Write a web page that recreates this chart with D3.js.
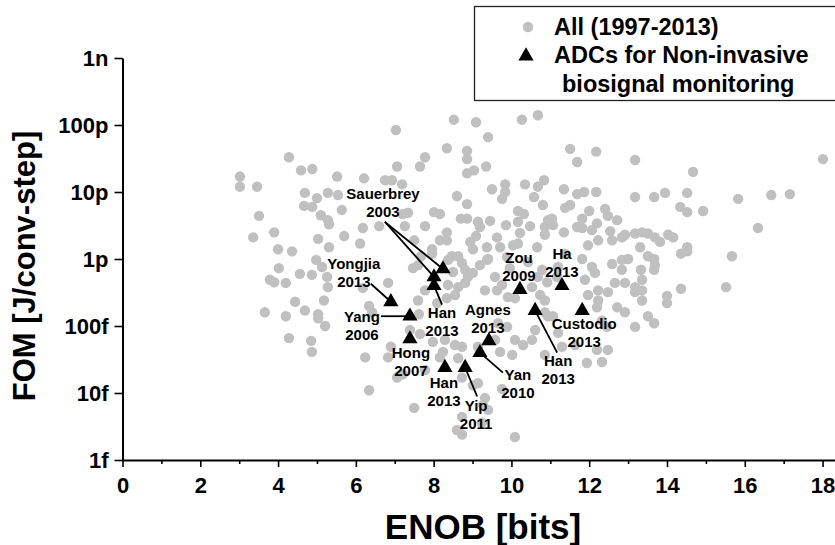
<!DOCTYPE html>
<html>
<head>
<meta charset="utf-8">
<script src="https://cdn.jsdelivr.net/npm/d3@7"></script>
<style>
  body { margin: 0; background: #fff; }
  svg text { font-family: "Liberation Sans", Arial, sans-serif; font-weight: bold; fill: #000; }
</style>
</head>
<body>
<svg width="835" height="545"></svg>
<script>
// All ADCs (1997-2013): [ENOB bits, FOM J/conv-step]
var allAdcs = [
  [3.02,1.7e-11],[3.02,1.2e-11],[3.46,1.2e-11],[3.51,4.4e-12],[3.36,2.1e-12],[3.90,2.5e-12],[4.28,3.3e-11],[4.59,2.1e-11],[4.88,2.2e-11],[4.69,9.7e-12],
  [5.00,8.1e-12],[4.67,6.2e-12],[4.88,6.0e-12],[5.10,4.5e-12],[5.28,3.8e-12],[5.31,3.3e-12],[5.52,1.7e-11],[5.64,5.4e-12],[6.21,1.6e-11],[6.75,1.5e-11],
  [6.93,1.5e-11],[7.19,1.3e-11],[7.03,8.4e-11],[7.06,2.4e-11],[7.65,2.4e-11],[7.78,3.3e-11],[5.28,9.7e-12],[5.54,9.0e-12],[6.18,2.9e-12],[6.60,3.1e-12],
  [7.26,3.1e-12],[7.21,4.7e-12],[7.34,4.9e-12],[5.03,2.0e-12],[5.70,2.2e-12],[6.11,1.7e-12],[7.50,1.9e-12],[4.00,1.4e-12],[4.36,1.3e-12],[5.31,1.5e-12],
  [4.02,7.3e-13],[4.56,6.0e-13],[4.87,5.8e-13],[4.98,9.7e-13],[5.13,7.6e-13],[5.26,5.4e-13],[5.28,3.8e-13],[3.79,4.9e-13],[3.90,4.5e-13],[4.20,4.4e-13],
  [5.18,2.4e-13],[4.44,2.3e-13],[4.69,1.7e-13],[3.66,1.6e-13],[4.20,1.4e-13],[5.03,1.5e-13],[5.03,1.3e-13],[5.21,1.0e-13],[4.28,6.6e-14],[4.85,6.0e-14],
  [4.87,4.1e-14],[6.34,1.1e-14],[7.50,6.0e-15],[6.24,3.4e-14],[6.83,3.4e-14],[7.06,1.7e-14],[7.21,1.9e-14],[6.34,2.0e-13],[6.42,1.6e-13],[6.83,4.4e-13],
  [6.18,3.7e-13],[6.90,4.9e-14],[7.39,8.7e-14],[7.62,1.5e-13],[7.65,7.6e-14],[7.68,1.1e-12],[7.60,8.1e-13],[7.47,7.3e-13],
  [8.52,1.2e-10],[9.09,1.1e-10],[10.27,1.2e-10],[10.68,1.4e-10],[9.40,6.6e-11],[8.34,4.5e-11],[8.86,4.1e-11],[8.86,3.1e-11],[9.35,2.4e-11],[8.86,1.9e-11],
  [9.04,2.1e-11],[11.51,4.4e-11],[12.18,4.0e-11],[11.69,2.8e-11],[13.18,3.0e-11],[14.67,2.0e-11],[18.01,3.1e-11],[9.50,1.1e-11],[9.84,1.3e-11],[9.84,1.0e-11],
  [9.76,7.9e-12],[10.35,1.3e-11],[10.68,1.2e-11],[10.84,1.5e-11],[10.58,8.4e-12],[10.81,6.4e-12],[11.35,1.1e-11],[11.69,9.3e-12],[11.87,1.0e-11],[12.18,1.0e-11],
  [13.18,8.4e-12],[13.67,8.4e-12],[13.95,9.7e-12],[14.52,9.7e-12],[14.34,6.0e-12],[14.52,5.0e-12],[14.93,5.2e-12],[15.83,7.9e-12],[16.68,9.0e-12],[17.16,9.3e-12],
  [16.34,2.9e-12],[15.67,1.1e-12],[8.60,8.7e-12],[8.86,6.6e-12],[8.01,5.0e-12],[8.16,4.7e-12],[7.78,3.1e-12],[8.34,2.5e-12],[8.16,1.9e-12],[8.70,4.0e-12],
  [8.86,4.0e-12],[9.14,3.6e-12],[9.19,3.0e-12],[9.45,3.7e-12],[9.09,2.2e-12],[8.94,1.8e-12],[9.86,3.2e-12],[10.17,3.6e-12],[10.17,5.2e-12],[10.32,4.7e-12],
  [10.94,3.8e-12],[11.04,4.0e-12],[10.86,3.0e-12],[11.07,3.2e-12],[10.86,2.3e-12],[11.35,2.5e-12],[11.38,5.8e-12],[11.51,6.4e-12],[12.00,5.2e-12],[11.82,4.0e-12],
  [11.69,3.0e-12],[11.82,2.9e-12],[12.07,2.7e-12],[12.20,3.4e-12],[12.41,5.6e-12],[12.48,4.4e-12],[12.72,3.8e-12],[12.54,2.6e-12],[12.84,2.1e-12],[12.59,1.9e-12],
  [12.23,1.9e-12],[11.97,1.6e-12],[10.17,1.7e-12],[10.66,1.5e-12],[13.18,2.4e-12],[13.36,2.5e-12],[13.51,2.4e-12],[13.69,2.1e-12],[13.82,1.8e-12],[14.03,2.3e-12],
  [14.16,2.1e-12],[12.92,2.3e-12],[13.31,1.5e-12],[14.52,1.5e-12],[13.00,1.0e-12],[13.51,1.1e-12],[13.67,1.0e-12],[13.69,8.1e-13],[13.67,6.9e-13],[14.36,1.2e-12],
  [14.52,1.3e-12],[13.33,6.9e-13],[13.36,4.9e-13],[13.18,3.8e-13],[13.18,3.2e-13],[13.36,3.4e-13],[12.92,4.4e-13],[13.36,2.4e-13],[14.00,2.8e-13],[14.00,2.2e-13],
  [14.36,3.6e-13],[15.52,3.8e-13],[12.92,1.6e-13],[13.51,1.4e-13],[13.67,1.1e-13],[13.18,9.7e-14],[12.72,1.9e-13],[12.48,4.4e-14],[12.33,2.9e-14],[11.94,2.8e-14],
  [12.20,4.4e-14],[12.20,1.9e-13],[11.30,4.9e-14],[10.86,3.7e-14],[10.53,6.2e-14],[10.30,5.2e-14],[10.02,3.7e-14],[9.71,4.1e-14],[10.09,2.2e-15],[9.76,1.15e-14],
  [9.27,6.6e-15],[8.73,2.4e-15],[8.73,4.4e-15],[9.01,1.3e-14],[8.63,3.3e-14],[8.55,5.2e-14],[8.24,4.1e-14],[7.96,1.2e-12],[8.47,1.1e-12],[8.63,1.1e-12],
  [8.73,8.7e-13],[8.81,6.9e-13],[8.88,5.4e-13],[8.63,3.8e-13],[8.55,2.9e-13],[8.81,4.4e-13],[9.01,6.2e-13],[9.19,8.1e-13],[9.40,1.0e-12],[9.58,5.4e-13],
  [9.32,3.4e-13],[9.63,3.4e-13],[9.76,4.1e-13],[9.91,2.7e-13],[10.09,2.6e-13],[10.53,3.8e-13],[10.68,5.4e-13],[10.79,6.9e-13],[10.74,2.9e-13],[10.86,2.4e-13],
  [10.86,1.6e-13],[10.94,1.4e-13],[10.92,4.5e-13],[11.17,5.4e-13],[11.20,7.6e-13],[11.38,1.2e-12],[11.82,1.0e-12],[11.89,4.9e-13],[12.07,7.6e-13],[12.15,6.2e-13],
  [12.23,3.4e-13],[12.23,2.4e-13],[11.97,2.9e-13],[12.48,3.2e-13],[12.66,4.4e-13],[12.84,6.9e-13],[12.59,8.4e-13],[12.84,9.7e-13],[12.33,1.2e-13],[12.46,9.7e-14],
  [11.64,5.2e-14],[11.07,1.4e-13],[11.20,7.9e-14],[10.61,8.7e-14],[10.09,6.2e-14],[9.89,9.7e-14],[9.66,1.1e-13],[9.58,6.2e-14],[9.14,4.9e-14],[8.73,4.9e-14],
  [8.29,6.2e-14],[8.16,3.4e-14],[8.73,1.7e-14],[9.14,1.4e-14],[9.32,8.4e-15],[9.40,5.6e-15],[9.24,3.6e-15],[8.60,2.8e-15],[7.98,5.8e-14],[7.78,2.2e-14],
  [7.96,1.4e-12],[8.34,1.9e-12],[8.37,9.7e-13],[8.50,6.4e-13],[8.37,4.1e-13],[8.34,2.6e-13],[8.09,2.2e-13],[7.78,3.4e-13],[7.60,2.4e-13],[9.71,1.5e-12],
  [10.43,9.0e-13],[9.96,7.3e-13],[9.37,1.5e-12],[9.63,2.1e-12],[10.04,1.6e-12],[10.22,2.45e-12],[10.48,3.1e-12],[9.89,1.07e-12],[9.37,9.7e-13],[9.01,1.4e-12]
];

// ADCs for non-invasive biosignal monitoring
var bioNames = ["Sauerbrey 2003", "Sauerbrey 2003", "Han 2013", "Yongjia 2013", "Yang 2006", "Hong 2007", "Han 2013",
                "Yip 2011", "Yan 2010", "Agnes 2013", "Zou 2009", "Ha 2013", "Han 2013", "Custodio 2013"];
var bioEnob = [8.24, 8.01, 8.01, 6.90, 7.39, 7.39, 8.29, 8.81, 9.19, 9.42, 10.22, 11.30, 10.61, 11.82];
var bioFom = [7.1e-13, 5.4e-13, 4.0e-13, 2.3e-13, 1.4e-13, 6.4e-14, 2.4e-14, 2.4e-14, 4.0e-14, 6.0e-14, 3.5e-13, 4.0e-13, 1.7e-13, 1.7e-13];

var xTicks = [0, 2, 4, 6, 8, 10, 12, 14, 16, 18];
var xMinorTicks = [1, 3, 5, 7, 9, 11, 13, 15, 17];
var yTicks = [1e-15, 1e-14, 1e-13, 1e-12, 1e-11, 1e-10, 1e-9];
var yTickLabels = ["1f", "10f", "100f", "1p", "10p", "100p", "1n"];

// label placement (pixels from the marked triangle): text centre, leader start
var notes = [
  {lines: ["Sauerbrey", "2003"], at: [0, 1], dx: -60, dy: -75, lx: -58, ly: -47},
  {lines: ["Han", "2013"], at: [2], dx: 8, dy: 27, lx: 8, ly: 19},
  {lines: ["Yongjia", "2013"], at: [3], dx: -37, dy: -38, lx: -20, ly: -18},
  {lines: ["Yang", "2006"], at: [4], dx: -48, dy: 0, lx: -29, ly: 0},
  {lines: ["Hong", "2007"], at: [5], dx: 1, dy: 14},
  {lines: ["Han", "2013"], at: [6], dx: -1, dy: 15},
  {lines: ["Yip", "2011"], at: [7], dx: 11, dy: 38, lx: 12, ly: 29},
  {lines: ["Yan", "2010"], at: [8], dx: 38, dy: 22, lx: 23, ly: 20},
  {lines: ["Agnes", "2013"], at: [9], dx: -1, dy: -31},
  {lines: ["Zou", "2009"], at: [10], dx: -1, dy: -32},
  {lines: ["Ha", "2013"], at: [11], dx: 0, dy: -32},
  {lines: ["Han", "2013"], at: [12], dx: 23, dy: 50, lx: 22, ly: 42},
  {lines: ["Custodio", "2013"], at: [13], dx: 2, dy: 13}
];

var svg = d3.select("svg");

var x = d3.scaleLinear().domain([0, 18.32]).range([122.5, 835]);
var y = d3.scaleLog().domain([1e-15, 1e-9]).range([460, 58]);

// gray cloud
svg.append("g").selectAll("circle")
    .data(allAdcs)
    .enter().append("circle")
    .attr("cx", function(d) { return x(d[0]); })
    .attr("cy", function(d) { return y(d[1]); })
    .attr("r", 5.2)
    .attr("fill", "#c0c0c0");

// axes
var xAxis = svg.append("g")
    .attr("transform", "translate(0,460)")
    .call(d3.axisBottom(x).tickValues(xTicks).tickSize(7).tickSizeOuter(0).tickPadding(10));
svg.append("g")
    .attr("transform", "translate(0,460)")
    .call(d3.axisBottom(x).tickValues(xMinorTicks).tickSize(4).tickSizeOuter(0).tickFormat(""))
    .select(".domain").remove();
var yAxis = svg.append("g")
    .attr("transform", "translate(122.5,0)")
    .call(d3.axisLeft(y).tickValues(yTicks).tickSize(8).tickPadding(6).tickSizeOuter(0)
        .tickFormat(function(d, i) { return yTickLabels[i]; }));

svg.selectAll(".domain").attr("stroke-width", 2);
svg.selectAll(".tick line").attr("stroke-width", 1.6);
xAxis.selectAll("text").attr("font-size", 22).attr("font-family", null);
yAxis.selectAll("text").attr("font-size", 22).attr("font-family", null).attr("dy", "0.36em");

svg.append("text")
    .attr("x", 483).attr("y", 539)
    .attr("text-anchor", "middle")
    .attr("font-size", 35)
    .text("ENOB [bits]");
svg.append("text")
    .attr("transform", "translate(35,266) rotate(-90)")
    .attr("text-anchor", "middle")
    .attr("font-size", 31)
    .text("FOM [J/conv-step]");

// leader lines, triangles, labels
var tri = d3.symbol().type(d3.symbolTriangle).size(100);
var bx = function(i) { return x(bioEnob[i]); };
var by = function(i) { return y(bioFom[i]); };

var lead = svg.append("g").attr("stroke", "#000").attr("stroke-width", 1.8);
notes.forEach(function(n) {
    if (n.lx === undefined) return;
    var i0 = n.at[0];
    n.at.forEach(function(i) {
        lead.append("line")
            .attr("x1", bx(i0) + n.lx).attr("y1", by(i0) + n.ly)
            .attr("x2", bx(i)).attr("y2", by(i));
    });
});

svg.append("g").selectAll("path")
    .data(bioEnob)
    .enter().append("path")
    .attr("d", tri)
    .attr("transform", function(d, i) { return "translate(" + bx(i) + "," + by(i) + ")"; })
    .attr("fill", "#000");

var lab = svg.append("g").attr("font-size", 15).attr("text-anchor", "middle");
notes.forEach(function(n) {
    var i0 = n.at[0];
    n.lines.forEach(function(s, k) {
        lab.append("text")
            .attr("x", bx(i0) + n.dx)
            .attr("y", by(i0) + n.dy + 5.5 + k * 18)
            .text(s);
    });
});

// legend
var leg = svg.append("g");
leg.append("rect")
    .attr("x", 474.5).attr("y", 6.5).attr("width", 380).attr("height", 94)
    .attr("fill", "#fff").attr("stroke", "#222").attr("stroke-width", 1.3);
leg.append("circle").attr("cx", 528).attr("cy", 27).attr("r", 5.2).attr("fill", "#c0c0c0");
leg.append("path").attr("d", tri).attr("transform", "translate(526,56)").attr("fill", "#000");
leg.append("text").attr("x", 554).attr("y", 35).attr("font-size", 23.5).text("All (1997-2013)");
leg.append("text").attr("x", 554).attr("y", 63).attr("font-size", 23.5).text("ADCs for Non-invasive");
leg.append("text").attr("x", 562).attr("y", 92).attr("font-size", 23.5).text("biosignal monitoring");
</script>
</body>
</html>
